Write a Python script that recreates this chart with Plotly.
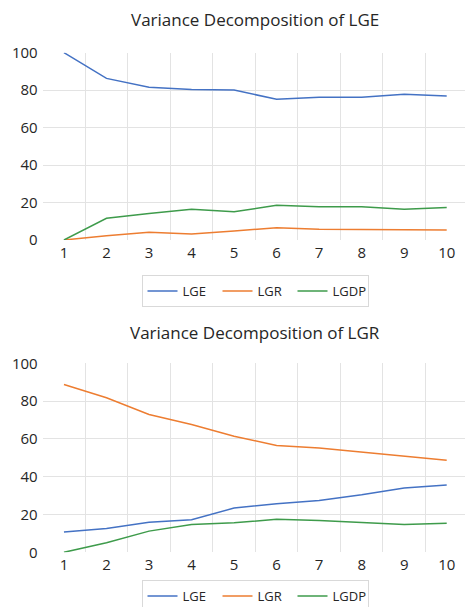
import plotly.graph_objects as go

periods = [1, 2, 3, 4, 5, 6, 7, 8, 9, 10]
series_names = ["LGE", "LGR", "LGDP"]
colors = ["#4472C4", "#ED7D31", "#3E9B4B"]

# Variance decomposition of LGE
lge_lge = [100, 86.3, 81.5, 80.4, 80.1, 75.1, 76.2, 76.2, 77.8, 76.9]
lge_lgr = [0, 2.3, 4.1, 3.2, 4.8, 6.6, 5.7, 5.7, 5.7, 5.3]
lge_lgdp = [0, 11.6, 14.2, 16.4, 15.1, 18.5, 17.8, 17.8, 16.4, 17.4]

# Variance decomposition of LGR
lgr_lge = [10.8, 12.6, 15.9, 17.2, 23.4, 25.7, 27.4, 30.4, 34.0, 35.6]
lgr_lgr = [88.8, 81.8, 72.9, 67.6, 61.4, 56.5, 55.2, 53.1, 50.8, 48.7]
lgr_lgdp = [0, 5.1, 11.2, 14.7, 15.6, 17.5, 16.8, 15.8, 14.7, 15.4]

titles = ["Variance Decomposition of LGE", "Variance Decomposition of LGR"]
y_ticks = [0, 20, 40, 60, 80, 100]
grid_y = [20, 40, 60, 80]
grid_x = [1.5, 2.5, 3.5, 4.5, 5.5, 6.5, 7.5, 8.5, 9.5]

W, H = 465, 607
FONT = "Open Sans, sans-serif"
GRID = "#E3E3E3"

fig = go.Figure()

panels = [
    ([lge_lge, lge_lgr, lge_lgdp], 52.7, 240.0, 20, "legend", 275),
    ([lgr_lge, lgr_lgr, lgr_lgdp], 363.3, 552.3, 333, "legend2", 580),
]

x_left_px = 42.7
x_range = [0.5, 10.43]

layout = dict(
    width=W, height=H,
    margin=dict(l=0, r=0, t=0, b=0, autoexpand=False),
    paper_bgcolor="white", plot_bgcolor="rgba(0,0,0,0)",
    font=dict(family=FONT, size=14, color="#404040"),
    annotations=[],
)

for i, (vals, ytop, ybot, title_y, legname, leg_top) in enumerate(panels):
    n = i * 2
    xa = f"x{n+1}" if n else "x"
    ya = f"y{n+1}" if n else "y"
    xg = f"x{n+2}"
    yg = f"y{n+2}"
    dom_y = [1 - ybot / H, 1 - ytop / H]
    dom_x = [x_left_px / W, 1.0]

    def key(a):
        return ("xaxis" if a[0] == "x" else "yaxis") + a[1:]

    # grid-only overlay axes
    layout[key(xg)] = dict(domain=dom_x, range=x_range, anchor=yg, overlaying=xa,
                           tickvals=grid_x, showticklabels=False, showgrid=True,
                           gridcolor=GRID, gridwidth=1, zeroline=False, showline=False,
                           ticks="", automargin=False)
    layout[key(yg)] = dict(domain=dom_y, range=[0, 100], anchor=xg, overlaying=ya,
                           tickvals=grid_y, showticklabels=False, showgrid=True,
                           gridcolor=GRID, gridwidth=1, zeroline=False, showline=False,
                           ticks="", automargin=False)
    # main axes
    layout[key(xa)] = dict(domain=dom_x, range=x_range, anchor=ya, tickvals=periods,
                           ticktext=[str(p) for p in periods], showgrid=False, zeroline=False,
                           showline=False, ticks="", automargin=False, ticklabelstandoff=2,
                           tickfont=dict(size=15, color="#262626"))
    layout[key(ya)] = dict(domain=dom_y, range=[0, 100], anchor=xa, tickvals=y_ticks,
                           showgrid=False, zeroline=False, showline=False, ticks="",
                           automargin=False, ticklabelstandoff=4,
                           tickfont=dict(size=15, color="#262626"))

    fig.add_trace(go.Scatter(x=[None], y=[None], xaxis=xg, yaxis=yg, showlegend=False,
                             hoverinfo="skip"))
    for name, v, c in zip(series_names, vals, colors):
        fig.add_trace(go.Scatter(x=periods, y=v, mode="lines", name=name,
                                 line=dict(color=c, width=1.5), xaxis=xa, yaxis=ya,
                                 legend=legname))

    layout["annotations"].append(dict(
        text=titles[i], x=255 / W, y=1 - title_y / H, xref="paper", yref="paper",
        xanchor="center", yanchor="middle", showarrow=False,
        font=dict(family=FONT, size=17, color="#262626")))

    layout[legname] = dict(
        orientation="h", x=255 / W, xanchor="center", y=1 - leg_top / H, yanchor="top",
        bordercolor="#D9D9D9", borderwidth=1, bgcolor="white",
        font=dict(family=FONT, size=13, color="#262626"),
        entrywidth=30, tracegroupgap=0)

fig.update_layout(**layout)
fig.write_html("out.html", config={"displayModeBar": False},
               post_script="document.body.style.margin='0';document.body.style.padding='0';")
